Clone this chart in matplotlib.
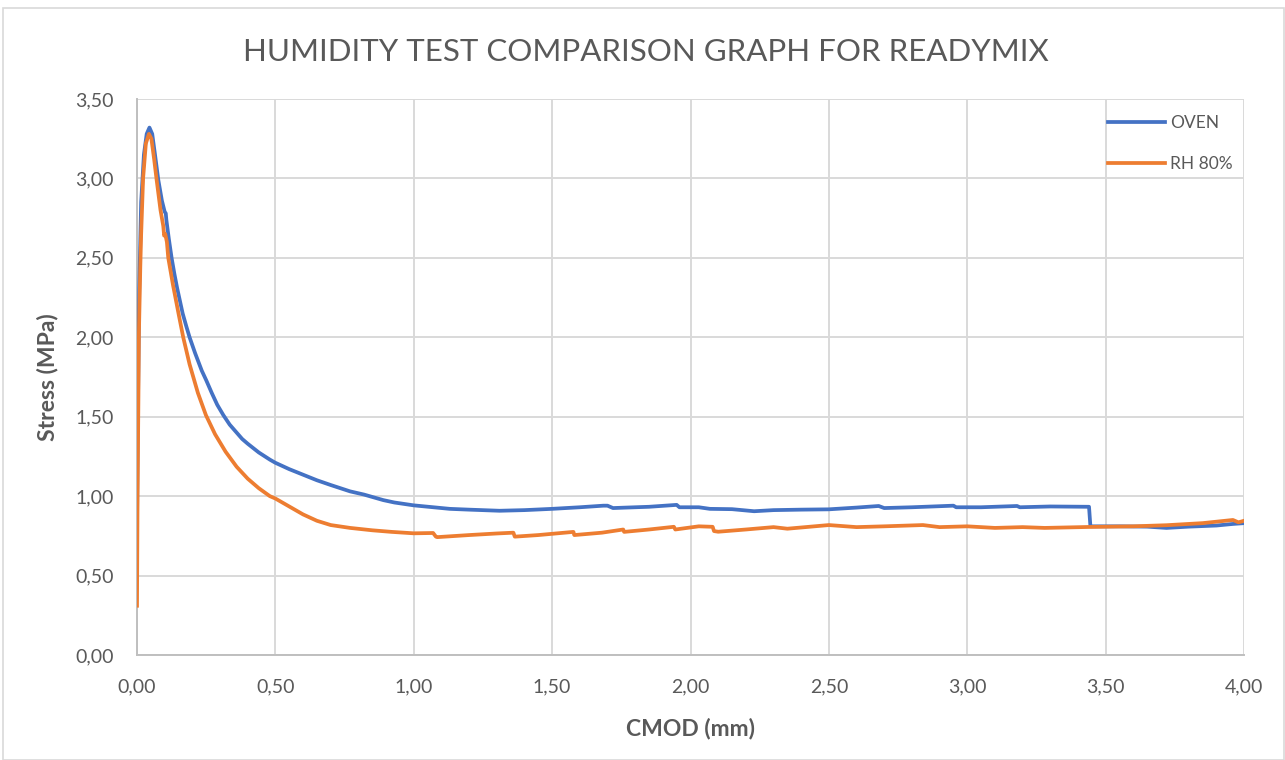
import matplotlib
matplotlib.use("Agg")
import matplotlib.pyplot as plt
from matplotlib.patches import Rectangle

plt.rcParams['font.family'] = ['Lato', 'DejaVu Sans']

title = "HUMIDITY TEST COMPARISON GRAPH FOR READYMIX"
x_label = "CMOD (mm)"
y_label = "Stress (MPa)"
series_names = ["OVEN", "RH 80%"]

oven_x = [0.000, 0.003, 0.008, 0.015, 0.025, 0.035, 0.045, 0.055, 0.065, 0.077,
          0.090, 0.100, 0.104, 0.106, 0.115, 0.125, 0.135, 0.145, 0.155, 0.165,
          0.178, 0.190, 0.210, 0.234, 0.250, 0.270, 0.290, 0.312, 0.335, 0.360,
          0.380, 0.400, 0.440, 0.480, 0.500, 0.550, 0.600, 0.650,
          0.700, 0.770, 0.820, 0.890, 0.930, 1.000, 1.130, 1.200, 1.310, 1.400,
          1.500, 1.600, 1.685, 1.700, 1.720, 1.800, 1.850, 1.950, 1.960, 2.030,
          2.070, 2.150, 2.230, 2.300, 2.400, 2.500, 2.600, 2.680, 2.700, 2.800,
          2.950, 2.960, 3.050, 3.180, 3.190, 3.300, 3.440, 3.445, 3.550, 3.650,
          3.720, 3.800, 3.900, 3.960, 4.000]
oven_y = [0.80, 1.50, 2.30, 2.85, 3.15, 3.28, 3.32, 3.28, 3.15, 2.99,
          2.86, 2.79, 2.78, 2.74, 2.62, 2.50, 2.40, 2.31, 2.23, 2.15,
          2.07, 2.00, 1.90, 1.79, 1.73, 1.65, 1.575, 1.51, 1.45, 1.40,
          1.36, 1.33, 1.275, 1.23, 1.21, 1.17, 1.135, 1.10,
          1.07, 1.03, 1.01, 0.975, 0.96, 0.942, 0.92, 0.915, 0.908, 0.912,
          0.920, 0.930, 0.940, 0.940, 0.925, 0.930, 0.933, 0.945, 0.930, 0.930,
          0.920, 0.918, 0.905, 0.912, 0.915, 0.917, 0.928, 0.938, 0.925, 0.930,
          0.940, 0.930, 0.930, 0.938, 0.930, 0.935, 0.933, 0.810, 0.810, 0.808,
          0.800, 0.808, 0.815, 0.825, 0.830]

rh_x = [0.000, 0.002, 0.005, 0.007, 0.012, 0.015, 0.022, 0.032, 0.043, 0.052,
        0.062, 0.071, 0.085, 0.095, 0.098, 0.102, 0.108, 0.113, 0.130, 0.150,
        0.167, 0.190, 0.220, 0.249, 0.282, 0.320, 0.360, 0.400, 0.440, 0.480,
        0.500, 0.550, 0.600, 0.650, 0.700, 0.770, 0.850, 0.920, 1.000, 1.070,
        1.080, 1.085, 1.200, 1.300, 1.360, 1.365, 1.450, 1.577, 1.580, 1.680,
        1.757, 1.760, 1.850, 1.940, 1.945, 2.030, 2.080, 2.085, 2.100, 2.200,
        2.300, 2.350, 2.500, 2.600, 2.700, 2.840, 2.900, 3.000, 3.100, 3.200,
        3.280, 3.440, 3.600, 3.720, 3.850, 3.960, 3.980, 4.000]
rh_y = [0.31, 1.00, 1.60, 2.03, 2.45, 2.65, 3.00, 3.22, 3.28, 3.25,
        3.12, 2.99, 2.80, 2.70, 2.64, 2.65, 2.60, 2.50, 2.33, 2.15,
        2.00, 1.83, 1.65, 1.51, 1.39, 1.28, 1.185, 1.11, 1.05, 1.00,
        0.985, 0.935, 0.885, 0.845, 0.818, 0.800, 0.785, 0.775, 0.766, 0.768,
        0.745, 0.742, 0.755, 0.765, 0.770, 0.745, 0.755, 0.775, 0.755, 0.770,
        0.790, 0.775, 0.790, 0.807, 0.790, 0.810, 0.807, 0.780, 0.776, 0.790,
        0.805, 0.795, 0.818, 0.805, 0.810, 0.818, 0.805, 0.810, 0.800, 0.805,
        0.800, 0.806, 0.810, 0.817, 0.830, 0.850, 0.835, 0.845]

x_ticks = [0.0, 0.5, 1.0, 1.5, 2.0, 2.5, 3.0, 3.5, 4.0]
y_ticks = [0.0, 0.5, 1.0, 1.5, 2.0, 2.5, 3.0, 3.5]

W, H = 1285, 760
fig = plt.figure(figsize=(W / 100, H / 100), dpi=100)
ax = fig.add_axes([137 / W, 1 - 655 / H, (1244 - 137) / W, (655 - 99) / H])

grid_c = "#d9d9d9"
text_c = "#595959"

ax.plot(oven_x, oven_y, color="#4472C4", lw=2.7, label=series_names[0],
        solid_joinstyle="round", zorder=3)
ax.plot(rh_x, rh_y, color="#ED7D31", lw=2.7, label=series_names[1],
        solid_joinstyle="round", zorder=4)

ax.set_xlim(0, 4)
ax.set_ylim(0, 3.5)
ax.set_xticks(x_ticks)
ax.set_yticks(y_ticks)
ax.set_xticklabels([f"{v:.2f}".replace(".", ",") for v in x_ticks])
ax.set_yticklabels([f"{v:.2f}".replace(".", ",") for v in y_ticks])
ax.grid(True, color=grid_c, lw=1.4, zorder=0)
ax.set_axisbelow(True)
for s in ["top", "right"]:
    ax.spines[s].set_visible(False)
for s in ["left", "bottom"]:
    ax.spines[s].set_color("#bfbfbf")
    ax.spines[s].set_linewidth(1.4)
ax.tick_params(length=0, labelsize=14, colors=text_c)
ax.tick_params(axis="x", pad=17)
ax.tick_params(axis="y", pad=17)

ax.set_xlabel(x_label, fontsize=16.5, fontweight="bold", color=text_c, labelpad=16)
ax.set_ylabel(y_label, fontsize=16.5, fontweight="bold", color=text_c, labelpad=12)

fig.text(646 / W, 1 - 52 / H, title, ha="center", va="center",
         fontsize=22.5, color=text_c, fontweight="normal")

leg = ax.legend(loc="upper left", bbox_to_anchor=(1108 / W, 1 - 115 / H),
                bbox_transform=fig.transFigure, frameon=False, fontsize=12.5,
                handlelength=3.3, handletextpad=0.3, labelspacing=1.45,
                borderpad=0, borderaxespad=0)
for t in leg.get_texts():
    t.set_color(text_c)

fig.patches.append(Rectangle((3 / W, 0), 1 - 4 / W, 1 - 8 / H,
                             transform=fig.transFigure, fill=False,
                             edgecolor="#d9d9d9", lw=1.2))

fig.savefig("out.png", dpi=100, facecolor="white")
